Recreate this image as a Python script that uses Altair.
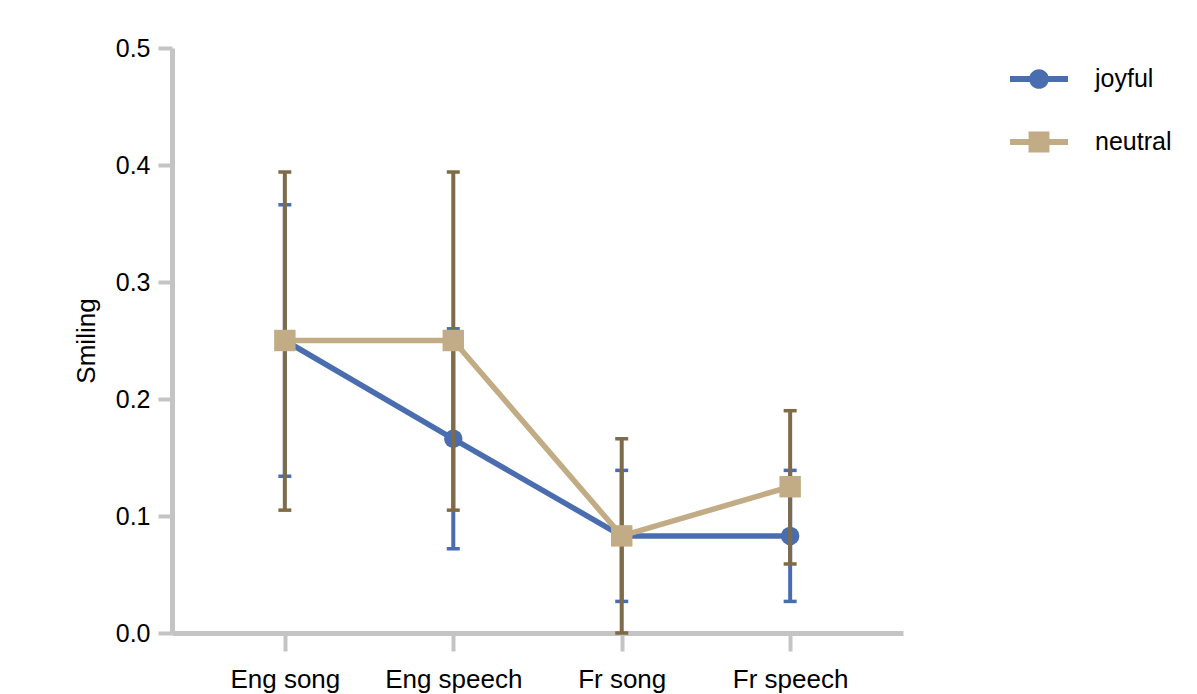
import altair as alt
import pandas as pd

categories = ["Eng song", "Eng speech", "Fr song", "Fr speech"]
series_names = ["joyful", "neutral"]
joyful_mean = [0.25, 0.166, 0.083, 0.083]
joyful_low = [0.134, 0.072, 0.027, 0.027]
joyful_high = [0.366, 0.260, 0.139, 0.139]
neutral_mean = [0.25, 0.25, 0.083, 0.125]
neutral_low = [0.105, 0.105, 0.0, 0.059]
neutral_high = [0.394, 0.394, 0.166, 0.190]

BLUE = "#4A6DB0"
TAN = "#C2AC85"
BROWN = "#7F6B47"
AXIS_GRAY = "#C4C4C4"
FONT = "Liberation Sans"

rows = []
for name, m, lo, hi in [("joyful", joyful_mean, joyful_low, joyful_high),
                         ("neutral", neutral_mean, neutral_low, neutral_high)]:
    for c, a, b, d in zip(categories, m, lo, hi):
        rows.append({"cond": c, "series": name, "mean": a, "low": b, "high": d})
df = pd.DataFrame(rows)

xenc = alt.X("cond:N", sort=categories,
             scale=alt.Scale(type="point", padding=0.67),
             axis=alt.Axis(title=None, labelAngle=0, labelFontSize=26, grid=False,
                           tickSize=18, labelPadding=15,
                           domainColor=AXIS_GRAY, domainWidth=5,
                           tickColor=AXIS_GRAY, tickWidth=4,
                           labelFont=FONT, labelColor="black"))
yscale = alt.Scale(domain=[0, 0.5], nice=False, zero=True)
yaxis = alt.Axis(title="Smiling", values=[0, 0.1, 0.2, 0.3, 0.4, 0.5], format=".1f",
                 labelFontSize=25, tickSize=14, labelPadding=8, grid=False,
                 domainColor=AXIS_GRAY, domainWidth=5, tickColor=AXIS_GRAY, tickWidth=4,
                 labelFont=FONT, titleFont=FONT, labelColor="black", titleColor="black",
                 titleFontSize=26, titlePadding=16, titleFontWeight="normal")

base = alt.Chart(df)

def series_layers(name, line_color, err_color, shape, size):
    b = base.transform_filter(alt.datum.series == name)
    rule = b.mark_rule(color=err_color, strokeWidth=4).encode(
        x=xenc, y=alt.Y("low:Q", scale=yscale, axis=yaxis), y2="high:Q")
    cap_lo = b.mark_tick(color=err_color, size=13, thickness=3.5, opacity=1).encode(
        x=xenc, y=alt.Y("low:Q", scale=yscale, axis=yaxis))
    cap_hi = b.mark_tick(color=err_color, size=13, thickness=3.5, opacity=1).encode(
        x=xenc, y=alt.Y("high:Q", scale=yscale, axis=yaxis))
    line = b.mark_line(color=line_color, strokeWidth=5.5).encode(
        x=xenc, y=alt.Y("mean:Q", scale=yscale, axis=yaxis))
    pts = b.mark_point(shape=shape, filled=True, size=size, color=line_color, opacity=1).encode(
        x=xenc, y=alt.Y("mean:Q", scale=yscale, axis=yaxis))
    return [line, pts, rule, cap_lo, cap_hi]

j_line, j_pts, j_rule, j_lo, j_hi = series_layers("joyful", BLUE, BLUE, "circle", 340)
n_line, n_pts, n_rule, n_lo, n_hi = series_layers("neutral", TAN, BROWN, "square", 460)

circle_path = ("M-1,-0.1 L1,-0.1 L1,0.1 L-1,0.1 Z "
               "M0,-0.34 A0.34,0.34 0 1,1 0,0.34 A0.34,0.34 0 1,1 0,-0.34 Z")
square_path = ("M-1,-0.1 L1,-0.1 L1,0.1 L-1,0.1 Z "
               "M-0.36,-0.36 L0.36,-0.36 L0.36,0.36 L-0.36,0.36 Z")

leg = alt.Legend(title=None, orient="none", legendX=838, legendY=2,
                 labelFontSize=25, labelFont=FONT, labelColor="black",
                 symbolSize=3364, symbolStrokeWidth=0, labelOffset=27,
                 rowPadding=21)
legend_layer = base.transform_filter("false").mark_point(filled=True, opacity=1).encode(
    x=xenc, y=alt.Y("mean:Q", scale=yscale, axis=yaxis),
    color=alt.Color("series:N", scale=alt.Scale(domain=series_names, range=[BLUE, TAN]), legend=leg),
    shape=alt.Shape("series:N", scale=alt.Scale(domain=series_names, range=[circle_path, square_path]), legend=leg),
)

chart = alt.layer(
    j_line, j_pts, j_rule, j_lo, j_hi,
    n_rule, n_lo, n_hi, n_line, n_pts,
    legend_layer,
).properties(
    width=731, height=585, autosize="none", background="white",
    padding={"left": 164, "top": 40, "right": 280, "bottom": 60},
).configure_view(stroke=None)

chart.save("out.html", embed_options={"renderer": "svg", "actions": False})
